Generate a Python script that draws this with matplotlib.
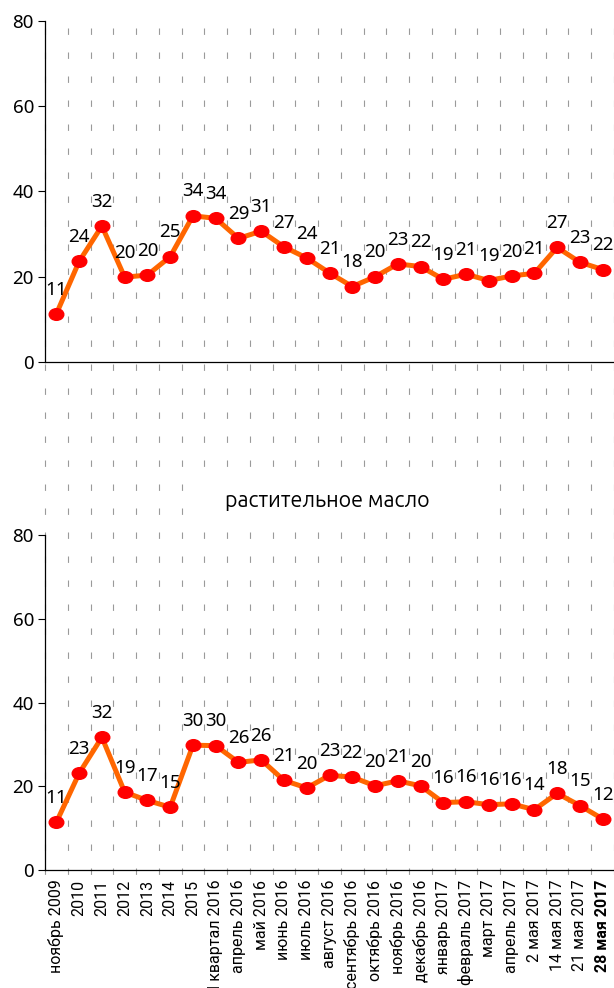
import matplotlib
matplotlib.use("Agg")
import matplotlib.pyplot as plt
from matplotlib.lines import Line2D
from matplotlib.patches import Rectangle
from matplotlib.path import Path
from matplotlib.transforms import Affine2D, blended_transform_factory

# ---- data ----
categories = ["ноябрь 2009", "2010", "2011", "2012", "2013", "2014", "2015",
              "I квартал 2016", "апрель 2016", "май 2016", "июнь 2016", "июль 2016",
              "август 2016", "сентябрь 2016", "октябрь 2016", "ноябрь 2016",
              "декабрь 2016", "январь 2017", "февраль 2017", "март 2017",
              "апрель 2017", "2 мая 2017", "14 мая 2017", "21 мая 2017", "28 мая 2017"]
top_values = [11.3, 23.6, 31.9, 19.9, 20.4, 24.7, 34.3, 33.7, 29.0, 30.7, 27.0, 24.4,
              20.9, 17.7, 20.0, 23.0, 22.4, 19.4, 20.6, 19.1, 20.2, 20.8, 26.9, 23.4, 21.7]
oil_values = [11.4, 23.1, 31.7, 18.6, 16.6, 15.0, 29.8, 29.7, 25.7, 26.3, 21.4, 19.6,
              22.6, 22.2, 20.1, 21.3, 20.1, 16.1, 16.3, 15.6, 15.8, 14.4, 18.3, 15.4, 12.2]
oil_title = "растительное масло"
y_ticks = [0, 20, 40, 60, 80]

plt.rcParams['lines.scale_dashes'] = False
NUM_FONT = ["Noto Sans", "DejaVu Sans"]
LBL_FONT = ["Roboto", "Liberation Sans", "DejaVu Sans"]
TTL_FONT = ["Ubuntu", "Open Sans", "DejaVu Sans"]

W, H = 614, 988
fig = plt.figure(figsize=(W / 100, H / 100), dpi=100)
fig.patch.set_facecolor("white")

ax_top = fig.add_axes([45 / W, 1 - 362 / H, 569 / W, 341 / H])
ax_bot = fig.add_axes([45 / W, 1 - 870 / H, 569 / W, 335 / H])

ellipse = Path.unit_circle().transformed(Affine2D().scale(1.0, 0.8))
n = len(categories)
x = list(range(n))

for ax, vals in ((ax_top, top_values), (ax_bot, oil_values)):
    ax.set_facecolor("none")
    ax.plot(x, vals, color="#FF6600", lw=3.6, zorder=3, solid_joinstyle="miter")
    ax.plot(x, vals, ls="none", marker=ellipse, ms=10.5, mfc="#FF0000",
            mec="#FF0000", zorder=4)
    for i, v in enumerate(vals):
        ax.annotate(f"{v:.0f}", (i, v), xytext=(0, 17.5), textcoords="offset points",
                    ha="center", va="center", fontsize=13.5, family=NUM_FONT,
                    fontweight="bold" if i == n - 1 else "normal", zorder=5)
    ax.set_xlim(-0.5, n - 0.5)
    ax.set_ylim(0, 80)
    ax.set_yticks(y_ticks)
    ax.tick_params(axis="y", length=5, width=0.8, pad=3, labelsize=13.5)
    for lab in ax.get_yticklabels():
        lab.set_family(NUM_FONT)
    for s in ("top", "right"):
        ax.spines[s].set_visible(False)
    ax.spines["left"].set_linewidth(0.9)
    ax.spines["bottom"].set_linewidth(0.9)

ax_top.set_xticks([])
ax_bot.set_xticks(x)
ax_bot.set_xticklabels(categories, rotation=90, fontsize=11.5, family=LBL_FONT)
ax_bot.tick_params(axis="x", length=0, pad=7)
ax_bot.get_xticklabels()[-1].set_fontweight("bold")

# dashed vertical grid lines running through both panels
tr = blended_transform_factory(ax_top.transData, fig.transFigure)
for k in range(n + 1):
    xb = k - 0.5
    ln = Line2D([xb, xb], [1 - 28 / H, 1 - 877 / H], transform=tr, color="#9a9a9a",
                lw=0.8, zorder=-1)
    ln.set_dashes((4.6, 12.68))
    fig.add_artist(ln)

# title with white background covering the grid
fig.add_artist(Rectangle((190 / W, 1 - 521 / H), 300 / W, 44 / H, transform=fig.transFigure,
                         facecolor="white", edgecolor="none", zorder=-0.5))
fig.text(327.5 / W, 1 - 500 / H, oil_title, ha="center", va="center", fontsize=15.5,
         family=TTL_FONT, fontweight="medium", zorder=1)

fig.savefig("out.png", dpi=100)
